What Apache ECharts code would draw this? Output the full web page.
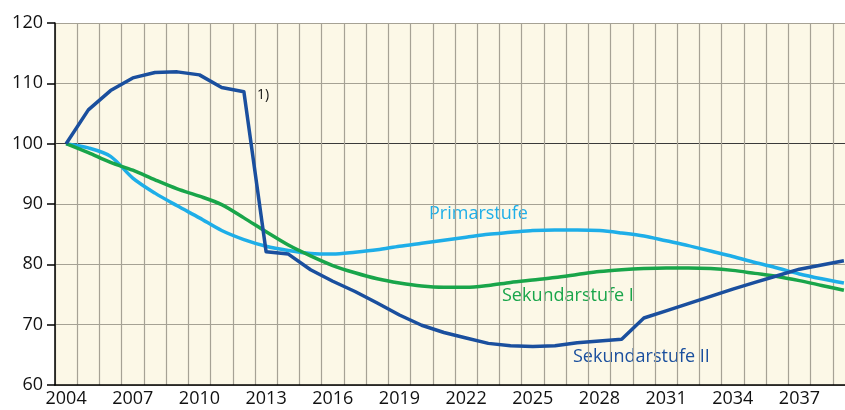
<!DOCTYPE html>
<html>
<head>
<meta charset="utf-8">
<script src="https://cdn.jsdelivr.net/npm/echarts@6/dist/echarts.min.js"></script>
<style>
 html, body { margin: 0; padding: 0; background: #fff; }
 #chart { width: 845px; height: 410px; }
</style>
</head>
<body>
<div id="chart"></div>
<script>
// Jahre 2004 - 2039
var years = [];
for (var y = 2004; y <= 2039; y++) years.push(String(y));

var primarstufe = [100, 99.3, 97.9, 94.3, 91.8, 89.7, 87.7, 85.6, 84.1, 83.0, 82.3, 81.8,
 81.7, 82.0, 82.4, 83.0, 83.5, 84.0, 84.5, 85.0, 85.3, 85.6, 85.7, 85.7, 85.6, 85.2,
 84.7, 83.9, 83.1, 82.2, 81.3, 80.3, 79.4, 78.4, 77.6, 76.9];
var sekundarstufe1 = [100, 98.5, 96.9, 95.6, 94.0, 92.5, 91.3, 89.9, 87.7, 85.4, 83.2, 81.4,
 79.8, 78.6, 77.6, 76.9, 76.4, 76.2, 76.2, 76.5, 77.0, 77.4, 77.8, 78.3, 78.8, 79.1,
 79.3, 79.4, 79.4, 79.3, 79.0, 78.5, 78.0, 77.3, 76.5, 75.7];
// Sek II: Sprung 2012/2013 (1), Knick 2029/2030
var sekundarstufe2 = [100, 105.6, 108.8, 110.9, 111.8, 111.9, 111.4, 109.3, 108.6, 82.1, 81.7, 79.1,
 77.2, 75.5, 73.6, 71.6, 69.9, 68.7, 67.8, 66.9, 66.5, 66.4, 66.5, 67.0, 67.3, 67.6,
 71.1, 72.3, 73.5, 74.7, 75.9, 77.0, 78.1, 79.2, 79.9, 80.6];

var yTicks = [60, 70, 80, 90, 100, 110, 120];

var cLight = '#1eaee8', cGreen = '#19a54a', cDark = '#1a4f9e';
var grid = '#a6a295';
var font = '"Open Sans", "Noto Sans", sans-serif';

var myChart = echarts.init(document.getElementById('chart'));
var option = {
 backgroundColor: '#ffffff',
 animation: false,
 grid: { left: 55, right: -10, top: 23, bottom: 25, outerBoundsMode: 'none',
  show: true, backgroundColor: '#fcf8e7', borderWidth: 0 },
 xAxis: {
  type: 'category', data: years, boundaryGap: true,
  axisLine: { lineStyle: { color: '#000', width: 1.5 } },
  axisTick: { show: false },
  axisLabel: { interval: 2, color: '#111', fontSize: 18, fontFamily: font, margin: 5 },
  splitLine: { show: true, interval: 0, lineStyle: { color: grid, width: 1.2 } }
 },
 yAxis: {
  type: 'value', min: yTicks[0], max: yTicks[yTicks.length - 1], interval: 10,
  axisLine: { show: true, lineStyle: { color: '#000', width: 1.5 } },
  axisTick: { show: true, length: 8, lineStyle: { color: '#000', width: 1.5 } },
  axisLabel: { color: '#111', fontSize: 18, fontFamily: font, margin: 12 },
  splitLine: { show: true, lineStyle: { color: [grid, grid, grid, grid, '#3a3a3a', grid, grid], width: 1.2 } }
 },
 series: [
  { name: 'Primarstufe', type: 'line', data: primarstufe, smooth: 0.3, symbol: 'none',
    lineStyle: { color: cLight, width: 3.5 }, z: 3 },
  { name: 'Sekundarstufe I', type: 'line', data: sekundarstufe1, smooth: 0.3, symbol: 'none',
    lineStyle: { color: cGreen, width: 3.5 }, z: 4 },
  { name: 'Sekundarstufe II', type: 'line', data: sekundarstufe2, smooth: false, symbol: 'none',
    lineStyle: { color: cDark, width: 3.5, join: 'round' }, z: 5 }
 ],
 graphic: [
  { type: 'text', left: 429, top: 205, style: { text: 'Primarstufe', fill: cLight, font: '18px ' + font } },
  { type: 'text', left: 502, top: 287, style: { text: 'Sekundarstufe I', fill: cGreen, font: '18px ' + font } },
  { type: 'text', left: 573, top: 348, style: { text: 'Sekundarstufe II', fill: cDark, font: '18px ' + font } },
  { type: 'text', left: 257, top: 88, style: { text: '1)', fill: '#111', font: '14px ' + font } }
 ]
};
myChart.setOption(option);
</script>
</body>
</html>
